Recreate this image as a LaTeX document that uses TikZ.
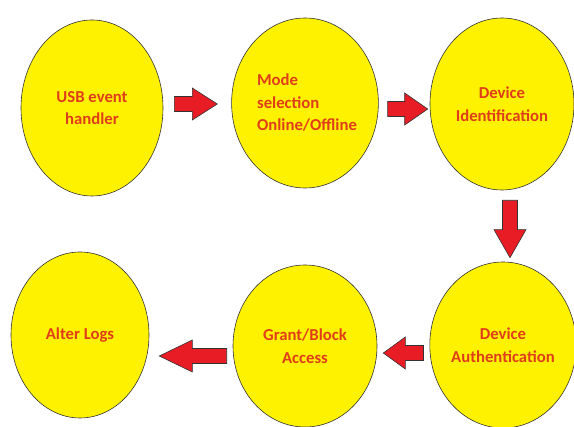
\documentclass[tikz,border=0pt]{standalone}
\usepackage{fontspec}
\setmainfont{Carlito}
\usepackage{xcolor}
\usepackage{tikz}
\usetikzlibrary{shapes.geometric,calc}

\definecolor{bubbleyellow}{RGB}{255,242,0}
\definecolor{labelred}{RGB}{224,62,26}
\definecolor{arrowred}{RGB}{232,28,36}

\tikzset{
    bubble/.style={draw=black!80, line width=0.6pt, fill=bubbleyellow, ellipse, inner sep=0pt,
        align=center, text=labelred, font=\bfseries\fontsize{16.7}{22.5}\selectfont},
    head len/.store in=\arrowheadlen, head len=25pt,
    blockarrow/.style={draw=black!80, line width=0.6pt, fill=arrowred, to path={
        let \p1=(\tikztostart), \p2=(\tikztotarget),
            \n1={veclen(\x2-\x1,\y2-\y1)}, \n2={atan2(\y2-\y1,\x2-\x1)} in
        [shift={(\p1)}, rotate=\n2]
        (0pt,-7.5pt) -- ({\n1-\arrowheadlen},-7.5pt) -- ({\n1-\arrowheadlen},-16pt) -- (\n1,0pt)
        -- ({\n1-\arrowheadlen},16pt) -- ({\n1-\arrowheadlen},7.5pt) -- (0pt,7.5pt) -- cycle}}
}

\begin{document}
\begin{tikzpicture}[x=1pt, y=1pt]
    \useasboundingbox (0,0) rectangle (574,-427);

    % Top row
    \node[bubble, minimum width=142pt, minimum height=176pt] (usb) at (92,-108) {USB event\\handler};
    \node[bubble, minimum width=136pt, minimum height=170pt, right of=usb, node distance=213pt, yshift=5pt, align=left] (mode) {\hspace*{4pt}Mode\\\hspace*{4pt}selection\\\hspace*{4pt}Online/Offline};
    \node[bubble, minimum width=144pt, minimum height=172pt, right of=mode, node distance=197pt, yshift=-1pt] (ident) {Device\\Identification};

    % Bottom row
    \node[bubble, minimum width=142pt, minimum height=166pt, below of=ident, node distance=241pt, xshift=1pt] (auth) {Device\\Authentication};
    \node[bubble, minimum width=144pt, minimum height=162pt, left of=auth, node distance=198pt, yshift=-1pt] (grant) {Grant/Block\\Access};
    \node[bubble, minimum width=138pt, minimum height=166pt, left of=grant, node distance=225pt, yshift=11pt] (logs) {Alter Logs};

    % Arrows
    \draw[blockarrow] ([xshift=11pt, yshift=4pt]usb.east) to ([xshift=-14pt, yshift=-1pt]mode.west);
    \draw[blockarrow, head len=23pt] ([xshift=9pt, yshift=-6pt]mode.east) to ([xshift=-2pt, yshift=-5pt]ident.west);
    \draw[blockarrow, head len=28pt] ([xshift=8pt, yshift=-10pt]ident.south) to ([xshift=7pt, yshift=4pt]auth.north);
    \draw[blockarrow, head len=22pt] ([xshift=-6pt, yshift=-8pt]auth.west) to ([xshift=6pt, yshift=-7pt]grant.east);
    \draw[blockarrow, head len=33pt] ([xshift=-6pt, yshift=-10pt]grant.west) to ([xshift=10pt, yshift=-21pt]logs.east);
\end{tikzpicture}
\end{document}
